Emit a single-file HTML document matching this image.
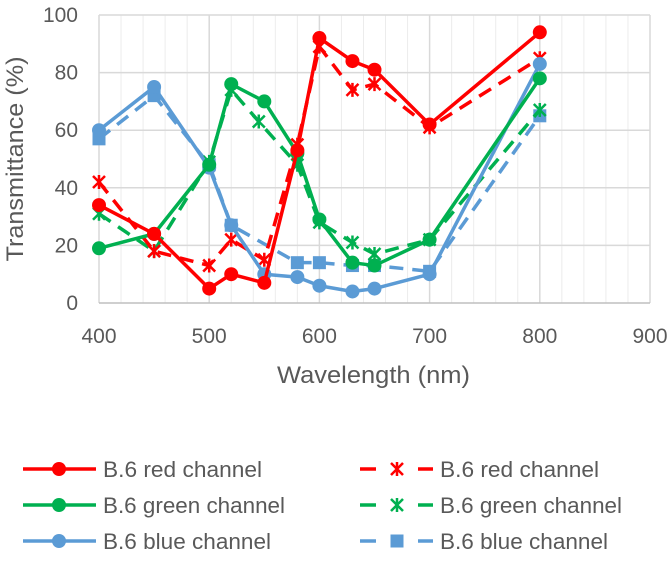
<!DOCTYPE html>
<html><head><meta charset="utf-8"><style>
body{margin:0;background:#fff;}
svg text{font-family:"Liberation Sans",sans-serif;fill:#595959;}
</style></head><body>
<svg id="chart" width="668" height="559" xmlns="http://www.w3.org/2000/svg">
<g id="grid"></g><g id="axes"></g><g id="series"></g><g id="legend"></g>
</svg>
<script>
const xTicks=[400,500,600,700,800,900];
const yTicks=[0,20,40,60,80,100];
const xRed=[400,450,500,520,550,580,600,630,650,700,800];
const redSolid=[34,24,5,10,7,53,92,84,81,62,94];
const redDashed=[42,18,13,22,15,55,89,74,76,61,85];
const xGreen=[400,450,500,520,550,580,600,630,650,700,800];
const greenSolid=[19,24,48,76,70,52,29,14,13,22,78];
const xGreenD=[400,450,500,520,545,580,600,630,650,700,800];
const greenDashed=[31,18,49,74,63,48,28,21,17,22,67];
const xBlue=[400,450,500,520,550,580,600,630,650,700,800];
const blueSolid=[60,75,47,27,10,9,6,4,5,10,83];
const xBlueD=[400,450,500,520,580,600,630,650,700,800];
const blueDashed=[57,72,48,27,14,14,13,13,11,65];
const legendLabels=["B.6 red channel","B.6 green channel","B.6 blue channel"];
const legendWidths=[159,182,168];

const NS="http://www.w3.org/2000/svg";
const X0=99,X1=650,Y0=303,Y1=15;
const sx=v=>X0+(v-400)/500*(X1-X0);
const sy=v=>Y0-v/100*(Y0-Y1);
function mk(tag,attrs,parent){const e=document.createElementNS(NS,tag);for(const k in attrs)e.setAttribute(k,attrs[k]);parent.appendChild(e);return e;}
const grid=document.getElementById('grid'),axes=document.getElementById('axes'),ser=document.getElementById('series'),leg=document.getElementById('legend');
for(let v=400;v<=900;v+=20){const l=mk('line',{x1:sx(v),x2:sx(v),y1:Y1,y2:Y0,stroke:v%100===0?'#d9d9d9':'#ececec','stroke-width':v%100===0?1.5:1},grid);

}
yTicks.forEach(v=>{const l=mk('line',{x1:X0,x2:X1,y1:sy(v),y2:sy(v),stroke:v===0?'#bfbfbf':'#d9d9d9','stroke-width':1.5},grid);


const t=mk('text',{x:78,y:sy(v)+7,'text-anchor':'end','font-size':21},axes);t.textContent=v;

});
xTicks.forEach(v=>{const t=mk('text',{x:sx(v),y:343,'text-anchor':'middle','font-size':21},axes);t.textContent=v;

});
const xt=mk('text',{x:277,y:383,'font-size':24,textLength:193,lengthAdjust:'spacingAndGlyphs'},axes);xt.textContent='Wavelength (nm)';


const yt=mk('text',{x:0,y:0,'text-anchor':'middle','font-size':24,textLength:205,lengthAdjust:'spacingAndGlyphs',transform:'translate(23,159) rotate(-90)'},axes);yt.textContent='Transmittance (%)';



function marker(type,x,y,c,g){
 if(type==='circle'){mk('circle',{cx:x,cy:y,r:7,fill:c},g);}
 else if(type==='square'){mk('rect',{x:x-6.5,y:y-6.5,width:13,height:13,fill:c},g);}
 else {const s=6;mk('path',{d:`M${x-s} ${y-s}L${x+s} ${y+s}M${x-s} ${y+s}L${x+s} ${y-s}M${x} ${y-s-1}L${x} ${y+s+1}`,stroke:c,'stroke-width':2.5,fill:'none'},g);}
}
function series(name,xs,ys,c,dash,m){
 const g=mk('g',{},ser);
 
 
 const d=xs.map((x,i)=>(i?'L':'M')+sx(x)+' '+sy(ys[i])).join('');
 const p={d:d,stroke:c,'stroke-width':3.5,fill:'none','stroke-linejoin':'round'};
 if(dash)p['stroke-dasharray']='14 9';
 mk('path',p,g);
 xs.forEach((x,i)=>marker(m,sx(x),sy(ys[i]),c,g));
}
series('blue-dashed-series',xBlueD,blueDashed,'#5b9bd5',true,'square');
series('green-dashed-series',xGreenD,greenDashed,'#00b050',true,'star');
series('red-dashed-series',xRed,redDashed,'#ff0000',true,'star');
series('blue-solid-series',xBlue,blueSolid,'#5b9bd5',false,'circle');
series('green-solid-series',xGreen,greenSolid,'#00b050',false,'circle');
series('red-solid-series',xRed,redSolid,'#ff0000',false,'circle');

const cols=['#ff0000','#00b050','#5b9bd5'];const rowsY=[469,505,541];
cols.forEach((c,i)=>{
 const y=rowsY[i];
 const g1=mk('g',{},leg);
 
 
 mk('line',{x1:23,x2:96,y1:y,y2:y,stroke:c,'stroke-width':3.5},g1);
 marker('circle',59,y,c,g1);
 const t1=mk('text',{x:103,y:y+8,'font-size':22,textLength:legendWidths[i],lengthAdjust:'spacingAndGlyphs'},g1);t1.textContent=legendLabels[i];
 const g2=mk('g',{},leg);
 
 
 mk('line',{x1:360,x2:376,y1:y,y2:y,stroke:c,'stroke-width':3.5},g2);
 mk('line',{x1:418,x2:433,y1:y,y2:y,stroke:c,'stroke-width':3.5},g2);
 marker(i===2?'square':'star',397,y,c,g2);
 const t2=mk('text',{x:440,y:y+8,'font-size':22,textLength:legendWidths[i],lengthAdjust:'spacingAndGlyphs'},g2);t2.textContent=legendLabels[i];
});
</script>
</body></html>
